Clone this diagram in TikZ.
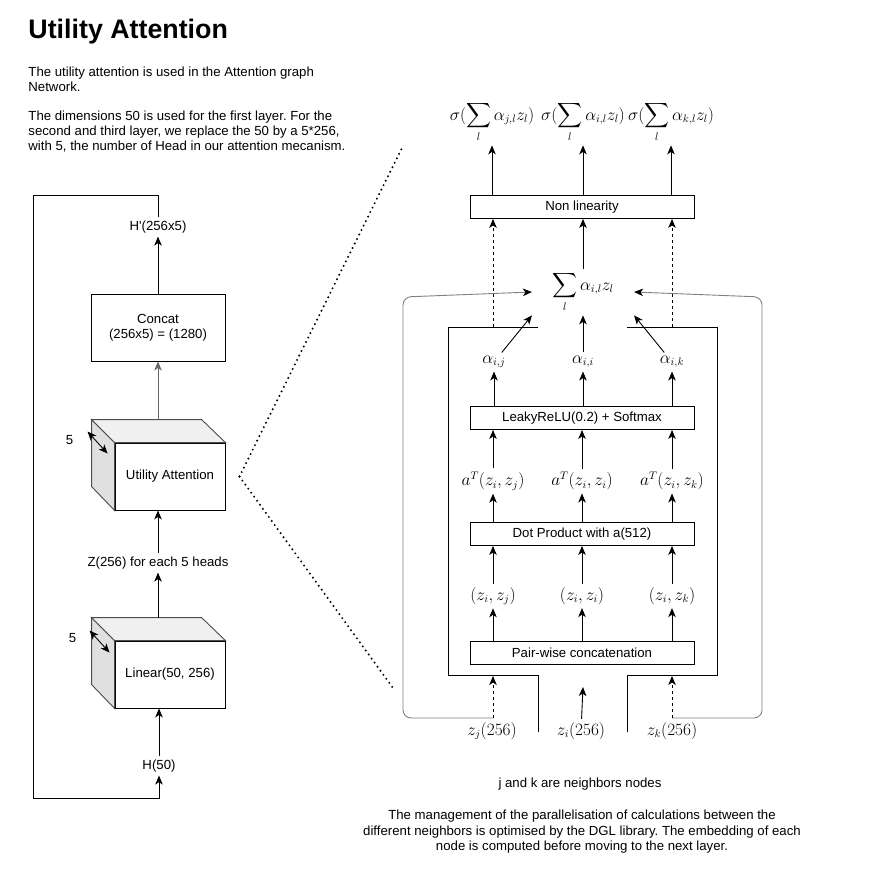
\documentclass[tikz,border=0pt]{standalone}
\usepackage{fontspec}
\setmainfont{Liberation Sans}
\usepackage{amsmath}
\usetikzlibrary{arrows.meta,positioning}
\frenchspacing

\begin{document}
\begin{tikzpicture}[x=1pt, y=-1pt, line width=0.9pt, >={Stealth[length=9pt,width=7.5pt,inset=2.5pt]}]
\tikzstyle{every node} = [inner sep=0pt, font=\fontsize{13.2}{15}\selectfont]
\tikzstyle{box} = [draw, minimum width=224pt, minimum height=23pt]
\tikzstyle{lab} = [inner sep=3pt]
\tikzstyle{mth} = [inner sep=3pt, font=\fontsize{16}{18}\selectfont]
\tikzstyle{cubeside} = [fill=black!12, draw=black!70]
\tikzstyle{cubetop} = [fill=black!6, draw=black!70]
\tikzstyle{dotline} = [line width=2.2pt, line cap=round, dash pattern=on 0pt off 5pt]
\tikzstyle{backline} = [draw=black!50, rounded corners=8pt, -{Stealth[black,length=9pt,width=7.5pt,inset=2.5pt]}]
\useasboundingbox (0,0) rectangle (870,883);

% header text
\node[anchor=base west, font=\fontsize{26.8}{30}\selectfont\bfseries] (title) at (28,38) {Utility Attention};
\node[anchor=north west, align=left] (intro) at (28,66) {The utility attention is used in the Attention graph\\Network.};
\node[anchor=north west, align=left] (dims) at (28,110) {The dimensions 50 is used for the first layer. For the\\second and third layer, we replace the 50 by a 5*256,\\with 5, the number of Head in our attention mecanism.};

% left column
\node[lab] (hp) at (158,227) {H\textquotesingle(256x5)};
\node[box, minimum width=134pt, minimum height=67pt, align=center] (concat) at (158,327.5) {Concat\\(256x5) = (1280)};
\node[box, minimum width=110pt, minimum height=67pt] (ua) at (170,476.5) {Utility Attention};
\filldraw[cubeside] (ua.north west) -- ++(-23,-23) coordinate (uab) -- ++(0,67) -- (ua.south west) -- cycle;
\filldraw[cubetop] (ua.north west) -- (uab) -- ++(110,0) -- (ua.north east) -- cycle;
\draw[<->] ([shift={(-27,-11)}]ua.north west) -- ([shift={(-7,11)}]ua.north west);
\node (uan) at ([shift={(-45,-3)}]ua.north west) {5};
\node[lab] (zh) at (158,563) {Z(256) for each 5 heads};
\node[box, minimum width=110pt, minimum height=67pt] (lin) at (170,674.5) {Linear(50, 256)};
\filldraw[cubeside] (lin.north west) -- ++(-23,-23) coordinate (linb) -- ++(0,67) -- (lin.south west) -- cycle;
\filldraw[cubetop] (lin.north west) -- (linb) -- ++(110,0) -- (lin.north east) -- cycle;
\draw[<->] ([shift={(-25,-10)}]lin.north west) -- ([shift={(-5,12)}]lin.north west);
\node (linn) at ([shift={(-42,-3)}]lin.north west) {5};
\node[lab] (h50) at (159,766) {H(50)};

\draw[->] (concat) -- (hp);
\draw[->, draw=black!60] (concat |- uab) -- (concat);
\draw[->] (zh) -- (zh |- ua.south);
\draw[->] (zh |- linb) -- (zh);
\draw[->] (h50) -- (h50 |- lin.south);
\draw[->] (hp.north) |- (33,195) -- (33,798) -| (h50.south);

% zoom lines
\coordinate (zt) at (402,148);
\coordinate (zb) at (393,688);
\draw[dotline] ([xshift=14pt]ua.east) -- (zt);
\draw[dotline] ([xshift=14pt]ua.east) -- (zb);

% right column
\node[mth] (sj) at (492,122) {$\sigma(\displaystyle\sum_l \alpha_{j,l} z_l)$};
\node[mth] (si) at (583,122) {$\sigma(\displaystyle\sum_l \alpha_{i,l} z_l)$};
\node[mth] (sk) at (671,122) {$\sigma(\displaystyle\sum_l \alpha_{k,l} z_l)$};
\node[box] (nl) at (582,207) {Non linearity};
\node[mth, inner xsep=20pt] (sum) at (583,292) {$\displaystyle\sum_l \alpha_{i,l} z_l$};
\node[mth] (aj) at (494,362) {$\alpha_{i,j}$};
\node[mth] (ai) at (583,362) {$\alpha_{i,i}$};
\node[mth] (ak) at (672,362) {$\alpha_{i,k}$};
\node[box] (lr) at (582,418) {LeakyReLU(0.2) + Softmax};
\node[mth] (tj) at (493,481) {$a^T(z_i,z_j)$};
\node[mth] (ti) at (582,481) {$a^T(z_i,z_i)$};
\node[mth] (tk) at (672,481) {$a^T(z_i,z_k)$};
\node[box] (dp) at (582,534) {Dot Product with a(512)};
\node[mth] (pj) at (493,596) {$(z_i,z_j)$};
\node[mth] (pi) at (582,596) {$(z_i,z_i)$};
\node[mth] (pk) at (672,596) {$(z_i,z_k)$};
\node[box] (pw) at (582,653) {Pair-wise concatenation};
\node[mth] (zj) at (492,731) {$z_j(256)$};
\node[mth] (zi) at (581,731) {$z_i(256)$};
\node[mth] (zk) at (672,731) {$z_k(256)$};

% inner frame
\draw (538,732) -- (538,675) -- (448,675) -- (448,327) -- (538,327);
\draw (627,732) -- (627,675) -- (717,675) -- (717,327) -- (627,327);
\coordinate (fj) at (493,327);
\coordinate (fk) at (672,327);
\coordinate (jin) at (493,718);
\coordinate (kin) at (672,718);
\coordinate (iin) at (583,687);

\draw[->] (nl.north -| sj) -- (sj);
\draw[->] (nl.north -| si) -- (si);
\draw[->] (nl.north -| sk) -- (sk);
\draw[->, dashed] (fj) -- (fj |- nl.south);
\draw[->] (sum) -- (sum |- nl.south);
\draw[->, dashed] (fk) -- (fk |- nl.south);
\draw[backline] (jin) -| (403,297) -- (sum.west);
\draw[backline] (kin) -| (762,297) -- (sum.east);
\draw[->] (aj) -- (sum.south west);
\draw[->] (ai) -- (sum);
\draw[->] (ak) -- (sum.south east);
\draw[->] (lr.north -| aj) -- (aj);
\draw[->] (lr.north -| ai) -- (ai);
\draw[->] (lr.north -| ak) -- (ak);
\draw[->] (tj) -- (tj |- lr.south);
\draw[->] (ti) -- (ti |- lr.south);
\draw[->] (tk) -- (tk |- lr.south);
\draw[->] (dp.north -| tj) -- (tj);
\draw[->] (dp.north -| ti) -- (ti);
\draw[->] (dp.north -| tk) -- (tk);
\draw[->] (pj) -- (pj |- dp.south);
\draw[->] (pi) -- (pi |- dp.south);
\draw[->] (pk) -- (pk |- dp.south);
\draw[->] (pw.north -| pj) -- (pj);
\draw[->] (pw.north -| pi) -- (pi);
\draw[->] (pw.north -| pk) -- (pk);
\draw[->, dashed] (jin) -- (493,676);
\draw[->] (zi) -- (iin);
\draw[->, dashed] (kin) -- (672,676);

% bottom notes
\node (note) at (580,784) {j and k are neighbors nodes};
\node[align=center, font=\fontsize{13.2}{15.5}\selectfont] (dgl) at (582,832) {The management of the parallelisation of calculations between the\\different neighbors is optimised by the DGL library. The embedding of each\\node is computed before moving to the next layer.};
\end{tikzpicture}
\end{document}
